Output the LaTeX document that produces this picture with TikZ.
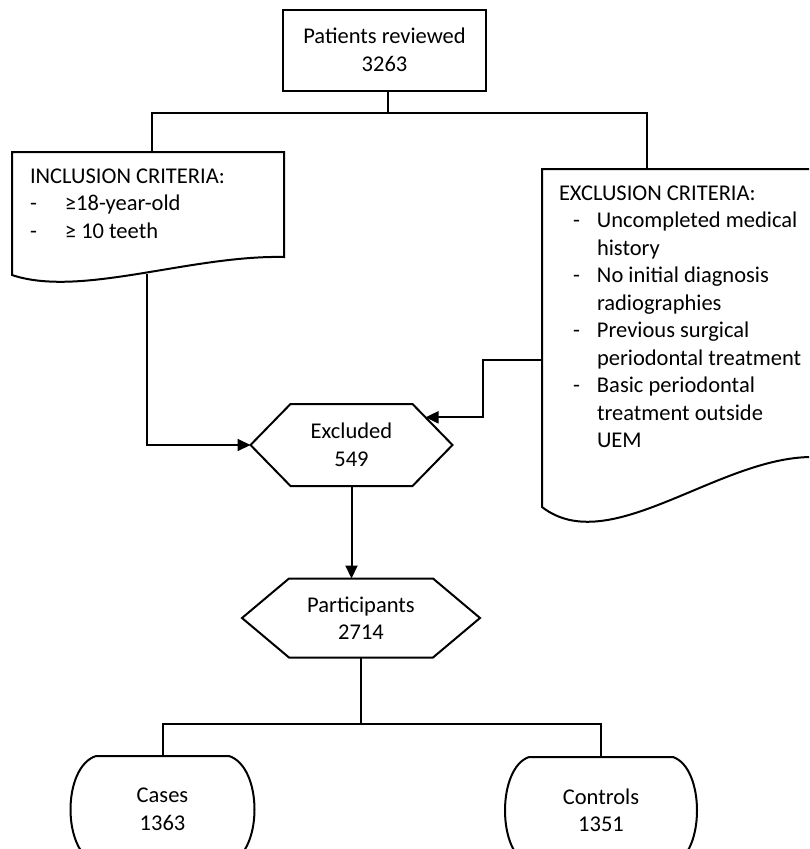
\documentclass[tikz,border=0pt]{standalone}
\usepackage{fontspec}
\setmainfont{Carlito}
\usetikzlibrary{calc,arrows.meta}

\begin{document}
\begin{tikzpicture}[x=1pt, y=-1pt, line width=2pt,
	every node/.style={font=\fontsize{22.5}{27.5}\selectfont, align=center, inner sep=0pt},
	crit/.style={align=left, anchor=north west},
	flowarrow/.style={-{Triangle[length=13pt,width=12pt]}}]
	\useasboundingbox (0,0) rectangle (809,849);
	\clip (0,0) rectangle (809,849);
	
	% Patients reviewed
	\node[draw, minimum width=203, minimum height=81] (patients) at (384.5,50) {Patients reviewed\\3263};
	\coordinate (split) at (388,113);
	\draw (patients.south -| split) -- (split);
	
	% Inclusion criteria (document shape)
	\draw (12,152) -- (284,152) -- (284,257) .. controls (190,255) and (80,298) .. (12,275) -- cycle;
	\coordinate (incltop) at (152,152);
	\coordinate (inclbot) at (147,274);
	\node[crit] (inclcrit) at (29,167.5) {INCLUSION CRITERIA:\\
		\makebox[35pt][l]{-}≥18-year-old\\
		\makebox[35pt][l]{-}≥ 10 teeth};
	
	% Exclusion criteria (document shape, runs off the right edge)
	\draw (812,169) -- (542,169) -- (542,507) .. controls (609,559) and (718,457) .. (812,457);
	\coordinate (excltop) at (647,169);
	\coordinate (exclout) at (542,360);
	\node[crit] (exclcrit) at (558,184.5) {EXCLUSION CRITERIA:\\
		\hspace*{14pt}\makebox[24pt][l]{-}Uncompleted medical\\
		\hspace*{38pt}history\\
		\hspace*{14pt}\makebox[24pt][l]{-}No initial diagnosis\\
		\hspace*{38pt}radiographies\\
		\hspace*{14pt}\makebox[24pt][l]{-}Previous surgical\\
		\hspace*{38pt}periodontal treatment\\
		\hspace*{14pt}\makebox[24pt][l]{-}Basic periodontal\\
		\hspace*{38pt}treatment outside\\
		\hspace*{38pt}UEM};
	
	\draw (incltop) -- (incltop |- split) -- (excltop |- split) -- (excltop);
	
	% Excluded
	\node[minimum width=200, minimum height=80] (excluded) at (351.5,445) {Excluded\\549};
	\draw (excluded.west) -- ([xshift=40pt]excluded.north west) -- ([xshift=-40pt]excluded.north east)
	-- (excluded.east) -- ([xshift=-40pt]excluded.south east) -- ([xshift=40pt]excluded.south west) -- cycle;
	\coordinate (exclhit) at ($(excluded.east)!0.675!([xshift=-40pt]excluded.north east)$);
	
	\draw[flowarrow] (inclbot) |- (excluded.west);
	\draw[flowarrow] (exclout) -- ++(-59,0) |- (exclhit);
	
	% Participants
	\node[minimum width=236, minimum height=77] (participants) at (361,618) {Participants\\2714};
	\draw (participants.west) -- ([xshift=47pt]participants.north west) -- ([xshift=-47pt]participants.north east)
	-- (participants.east) -- ([xshift=-47pt]participants.south east) -- ([xshift=47pt]participants.south west) -- cycle;
	\draw[flowarrow] (excluded.south) -- (excluded.south |- participants.north);
	
	% Cases and controls
	\node[minimum width=131, minimum height=105] (cases) at (162.5,809.5) {Cases\\1363};
	\draw (cases.north west) -- (cases.north east) .. controls +(34,11) and +(34,-11) .. (cases.south east)
	-- (cases.south west) .. controls +(-34,-11) and +(-34,11) .. (cases.north west);
	\node[minimum width=142, minimum height=105] (controls) at (601,810.5) {Controls\\1351};
	\draw (controls.north west) -- (controls.north east) .. controls +(32,11) and +(32,-11) .. (controls.south east)
	-- (controls.south west) .. controls +(-32,-11) and +(-32,11) .. (controls.north west);
	
	\coordinate (split2) at (358,724);
	\draw (participants.south) -- (participants.south |- split2);
	\draw (cases.north) |- (split2) -| (controls.north);
\end{tikzpicture}
\end{document}
